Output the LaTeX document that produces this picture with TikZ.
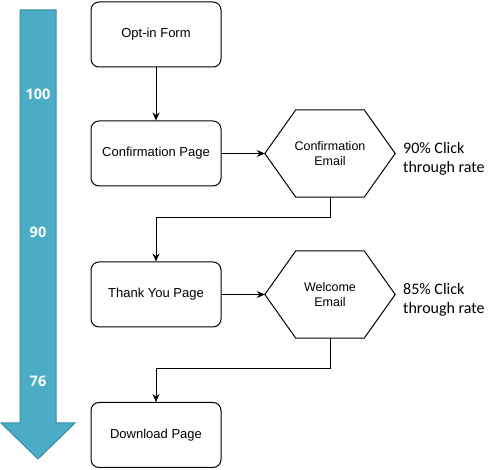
\documentclass[tikz,border=0pt]{standalone}
\usepackage{fontspec}
\setmainfont{Liberation Sans}
\newfontfamily\calibrifont{Carlito}
\newfontfamily\numfont{Open Sans}
\usetikzlibrary{arrows.meta}
\definecolor{funnelfill}{HTML}{4BACC6}
\definecolor{funneledge}{HTML}{3A8CA3}
\tikzset{
  pagebox/.style={draw, line width=1pt, rounded corners=8pt, minimum width=130pt, minimum height=65pt, inner sep=0pt, font=\fontsize{13}{15}\selectfont, align=center},
  hexbox/.style={minimum width=130pt, minimum height=87pt, inner sep=0pt, font=\fontsize{12.5}{15}\selectfont, align=center},
  hexline/.style={draw, line width=1pt},
  conn/.style={draw, line width=1pt, -{Stealth[length=8pt,width=7pt]}},
  ratetext/.style={font=\calibrifont\fontsize{16}{19.5}\selectfont, align=left, anchor=west, inner sep=0pt},
  numtext/.style={font=\numfont\bfseries\fontsize{14.5}{17}\selectfont, text=white, inner sep=0pt}
}
\begin{document}
\begin{tikzpicture}[x=1pt,y=-1pt]
\useasboundingbox (0,0) rectangle (499,470);
% funnel arrow
\draw[fill=funnelfill, draw=funneledge, line width=1pt]
  (20,10) -- (56,10) -- (56,423) -- (75,423) -- (38,459) -- (1,423) -- (20,423) -- cycle;
\node[numtext] (n100) at (38,94) {100};
\node[numtext] (n90) at (38,232) {90};
\node[numtext] (n76) at (38,381) {76};
% pages
\node[pagebox] (optin) at (156,34.5) {Opt-in Form};
\node[pagebox] (confp) at (156,153.5) {Confirmation Page};
\node[pagebox] (thanks) at (156,294.5) {Thank You Page};
\node[pagebox] (down) at (156,435) {Download Page};
% hexagons
\node[hexbox] (hex1) at (330,153.5) {Confirmation\\Email};
\node[hexbox] (hex2) at (330,294.5) {Welcome\\Email};
\foreach \h in {hex1,hex2}{
  \draw[hexline] (\h.west) -- ([xshift=31pt]\h.north west) -- ([xshift=-31pt]\h.north east)
    -- (\h.east) -- ([xshift=-31pt]\h.south east) -- ([xshift=31pt]\h.south west) -- cycle;
}
% rates
\node[ratetext] (r1) at (403,159) {90\% Click\\through rate};
\node[ratetext] (r2) at (403,300) {85\% Click\\through rate};
% connectors
\coordinate (j1) at (330,218);
\coordinate (j2) at (330,369);
\draw[conn] (optin) -- (confp);
\draw[conn] (confp) -- (hex1);
\draw[conn] (hex1.south) -- (j1) -| (thanks.north);
\draw[conn] (thanks) -- (hex2);
\draw[conn] (hex2.south) -- (j2) -| (down.north);
\end{tikzpicture}
\end{document}
